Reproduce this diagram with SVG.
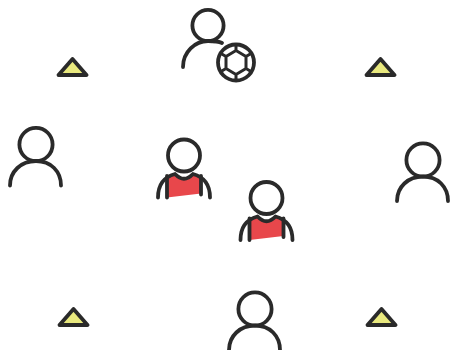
<svg xmlns="http://www.w3.org/2000/svg" width="450" height="350" viewBox="0 0 450 350">
<defs>
<style>
.l{fill:none;stroke:#2b2b2b;stroke-width:3.800;stroke-linecap:round;stroke-linejoin:round}
.t{fill:#e9e97e;stroke:#2b2b2b;stroke-width:3.800;stroke-linejoin:round}
.r{fill:#e8474c}
</style>
<filter id="soft" filterUnits="userSpaceOnUse" x="0" y="0" width="450" height="350"><feGaussianBlur stdDeviation="0.4"/></filter>
<g id="person"><circle class="l" cx="0" cy="0" r="16.600"/><path class="l" d="M-26 41C-26 27-15 16.500 0 16.500C15 16.500 25 27 25 41"/></g>
<g id="triangle"><path class="t" d="M0-9L14 7H-14Z"/></g>
<g id="player">
<path class="r" d="M-17 21L-8 19Q0 28 8 19L17 21V38L-17 42Z"/>
<circle class="l" cx="0" cy="0" r="16"/>
<path class="l" d="M-26 42C-26 31-22 22-9 18.500Q0 28 9 18.500C22 22 26 31 26 42"/>
<path class="l" d="M-17 20.500V42M17 20.500V39"/>
</g>
</defs>
<rect width="450" height="350" fill="#fff"/>
<g filter="url(#soft)">
<g id="connectors"/>
<g id="n-tri1"><use href="#triangle" x="72.500" y="68"/></g>
<g id="n-tri2"><use href="#triangle" x="380.500" y="68"/></g>
<g id="n-tri3"><use href="#triangle" x="73.500" y="318"/></g>
<g id="n-tri4"><use href="#triangle" x="381.500" y="318"/></g>
<g id="n-left"><use href="#person" x="36" y="144.500"/></g>
<g id="n-right"><use href="#person" x="423" y="160"/></g>
<g id="n-bottom"><use href="#person" x="255" y="309"/></g>
<g id="n-coach">
<circle class="l" cx="208" cy="25.500" r="15.600"/>
<path class="l" d="M183 67C183 52 195 41 208 41C213 41 218 41 222 43"/>
<circle class="l" cx="236" cy="62.500" r="18"/>
<path d="M236 50.500L246 56.500V68.500L236 74.500L226 68.500V56.500ZM236 50.500V45M246 56.500L251 53.500M246 68.500L251 71.500M236 74.500V80M226 68.500L221 71.500M226 56.500L221 53.500" fill="none" stroke="#2b2b2b" stroke-width="3" stroke-linejoin="round"/>
</g>
<g id="n-player1"><use href="#player" x="184" y="155.500"/></g>
<g id="n-player2"><use href="#player" x="266.500" y="198"/></g>
</g>
</svg>
